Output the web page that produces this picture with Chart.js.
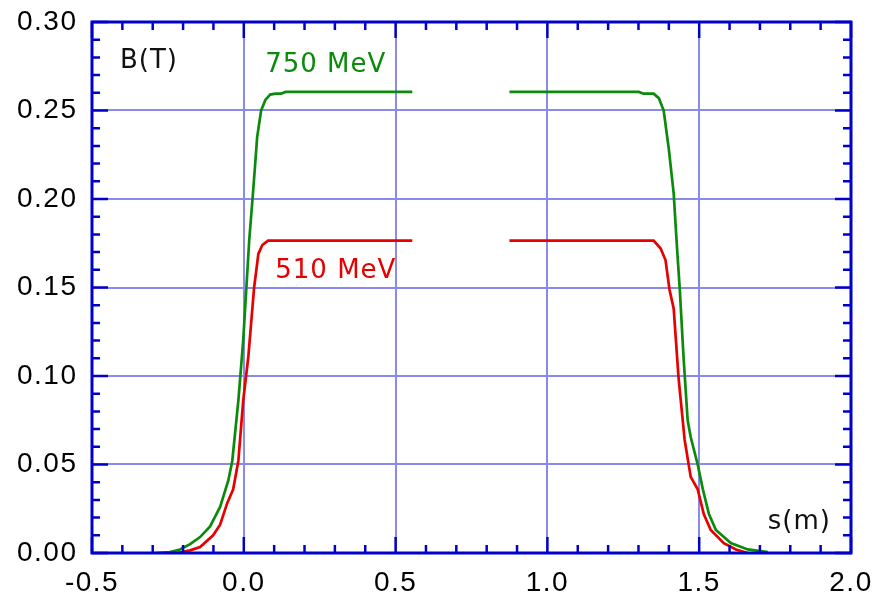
<!DOCTYPE html>
<html><head><meta charset="utf-8">
<script src="https://cdn.jsdelivr.net/npm/chart.js@4"></script>
<style>html,body{margin:0;padding:0;background:#fff}</style>
</head><body>
<canvas id="c" width="876" height="601"></canvas>
<script>
// 750 MeV field profile (s in m, B in T); null marks the gap in the measurement
const s750 = [-0.292,-0.243,-0.210,-0.177,-0.144,-0.111,-0.078,-0.051,-0.038,-0.018,-0.002,0.018,0.031,0.044,0.057,0.071,0.087,0.104,0.123,0.137,0.555,0.70,0.875,1.301,1.317,1.350,1.367,1.383,1.400,1.416,1.426,1.436,1.449,1.462,1.472,1.495,1.512,1.532,1.555,1.604,1.660,1.726];
const b750 = [0.0,0.0005,0.002,0.005,0.009,0.015,0.026,0.041,0.052,0.086,0.120,0.177,0.205,0.235,0.250,0.256,0.2590,0.2595,0.2595,0.2605,0.2605,null,0.2605,0.2605,0.2595,0.2595,0.257,0.250,0.228,0.203,0.175,0.149,0.109,0.075,0.0655,0.050,0.036,0.022,0.013,0.0056,0.002,0.0005];
// 510 MeV field profile
const s510 = [-0.220,-0.177,-0.144,-0.101,-0.078,-0.055,-0.035,-0.018,-0.002,0.015,0.034,0.048,0.061,0.080,0.555,0.70,0.875,1.350,1.373,1.389,1.402,1.416,1.432,1.452,1.472,1.495,1.515,1.538,1.581,1.621,1.660];
const b510 = [0.0,0.0015,0.0034,0.010,0.016,0.028,0.036,0.052,0.086,0.111,0.150,0.169,0.174,0.1765,0.1765,null,0.1765,0.1765,0.172,0.1655,0.149,0.138,0.099,0.064,0.043,0.036,0.022,0.013,0.0056,0.002,0.0];
const xTickVals = [-0.5,0.0,0.5,1.0,1.5,2.0];
const yTickVals = [0.00,0.05,0.10,0.15,0.20,0.25,0.30];
const seriesNames = ['750 MeV','510 MeV'];
const axisTitles = ['B(T)','s(m)'];

const toPts = (xs, ys) => xs.map((x,i)=>({x:x, y:ys[i]}));

const FRAME = '#0000cc';
const GRID = '#8a8aee';

const framePlugin = {
  id:'frame',
  beforeDraw(chart){ chart.ctx.letterSpacing = '1.5px'; },
  afterDatasetsDraw(chart){
    const {ctx, chartArea:a, scales:{x,y}} = chart;
    ctx.save();
    ctx.strokeStyle = FRAME;
    ctx.lineWidth = 2.5;
    ctx.beginPath();
    for(let i=-5;i<=20;i++){
      const px=x.getPixelForValue(i/10);
      const L = (i%5===0)?16:8;
      ctx.moveTo(px,a.bottom); ctx.lineTo(px,a.bottom-L);
      ctx.moveTo(px,a.top); ctx.lineTo(px,a.top+L);
    }
    for(let i=0;i<=30;i++){
      const py=y.getPixelForValue(i/100);
      const L = (i%5===0)?16:8;
      ctx.moveTo(a.left,py); ctx.lineTo(a.left+L,py);
      ctx.moveTo(a.right,py); ctx.lineTo(a.right-L,py);
    }
    ctx.stroke();
    ctx.lineWidth = 3;
    ctx.strokeRect(a.left,a.top,a.right-a.left,a.bottom-a.top);
    ctx.font = '26px "DejaVu Sans"';
    ctx.letterSpacing = '1px';
    ctx.textBaseline = 'middle';
    ctx.textAlign = 'left';
    ctx.fillStyle = '#111';
    ctx.fillText(axisTitles[0], x.getPixelForValue(-0.408), y.getPixelForValue(0.278));
    ctx.fillText(axisTitles[1], x.getPixelForValue(1.726), y.getPixelForValue(0.0175));
    ctx.fillStyle = '#0b8a0b';
    ctx.fillText(seriesNames[0], x.getPixelForValue(0.0706), y.getPixelForValue(0.2757));
    ctx.fillStyle = '#e60000';
    ctx.fillText(seriesNames[1], x.getPixelForValue(0.1036), y.getPixelForValue(0.159));
    ctx.restore();
  }
};

const noPad = s => { s.paddingTop=0; s.paddingBottom=0; s.paddingLeft=0; s.paddingRight=0; };

new Chart(document.getElementById('c'), {
  type:'scatter',
  data:{datasets:[
    {label:seriesNames[0], data:toPts(s750,b750), showLine:true, borderColor:'#0b8a0b', borderWidth:2.7, pointRadius:0, spanGaps:false, tension:0},
    {label:seriesNames[1], data:toPts(s510,b510), showLine:true, borderColor:'#e60000', borderWidth:2.7, pointRadius:0, spanGaps:false, tension:0}
  ]},
  options:{
    responsive:false, animation:false, devicePixelRatio:1,
    layout:{padding:{top:22,right:25,left:0,bottom:0}},
    plugins:{legend:{display:false}, tooltip:{enabled:false}},
    scales:{
      x:{type:'linear', min:-0.5, max:2.0,
        afterBuildTicks:s=>{s.ticks=xTickVals.map(v=>({value:v}));},
        afterFit:s=>{s.height=48; noPad(s);},
        grid:{color:GRID, lineWidth:2, drawTicks:false},
        border:{display:false},
        ticks:{padding:13, color:'#000', font:{family:'"Liberation Sans", Arial', size:28}, maxRotation:0, callback:v=>v.toFixed(1)}
      },
      y:{type:'linear', min:0, max:0.3,
        afterBuildTicks:s=>{s.ticks=yTickVals.map(v=>({value:v}));},
        afterFit:s=>{s.width=92; noPad(s);},
        grid:{color:GRID, lineWidth:2, drawTicks:false},
        border:{display:false},
        ticks:{padding:14.5, color:'#000', font:{family:'"Liberation Sans", Arial', size:28}, callback:v=>v.toFixed(2)}
      }
    }
  },
  plugins:[framePlugin]
});
</script>
</body></html>
